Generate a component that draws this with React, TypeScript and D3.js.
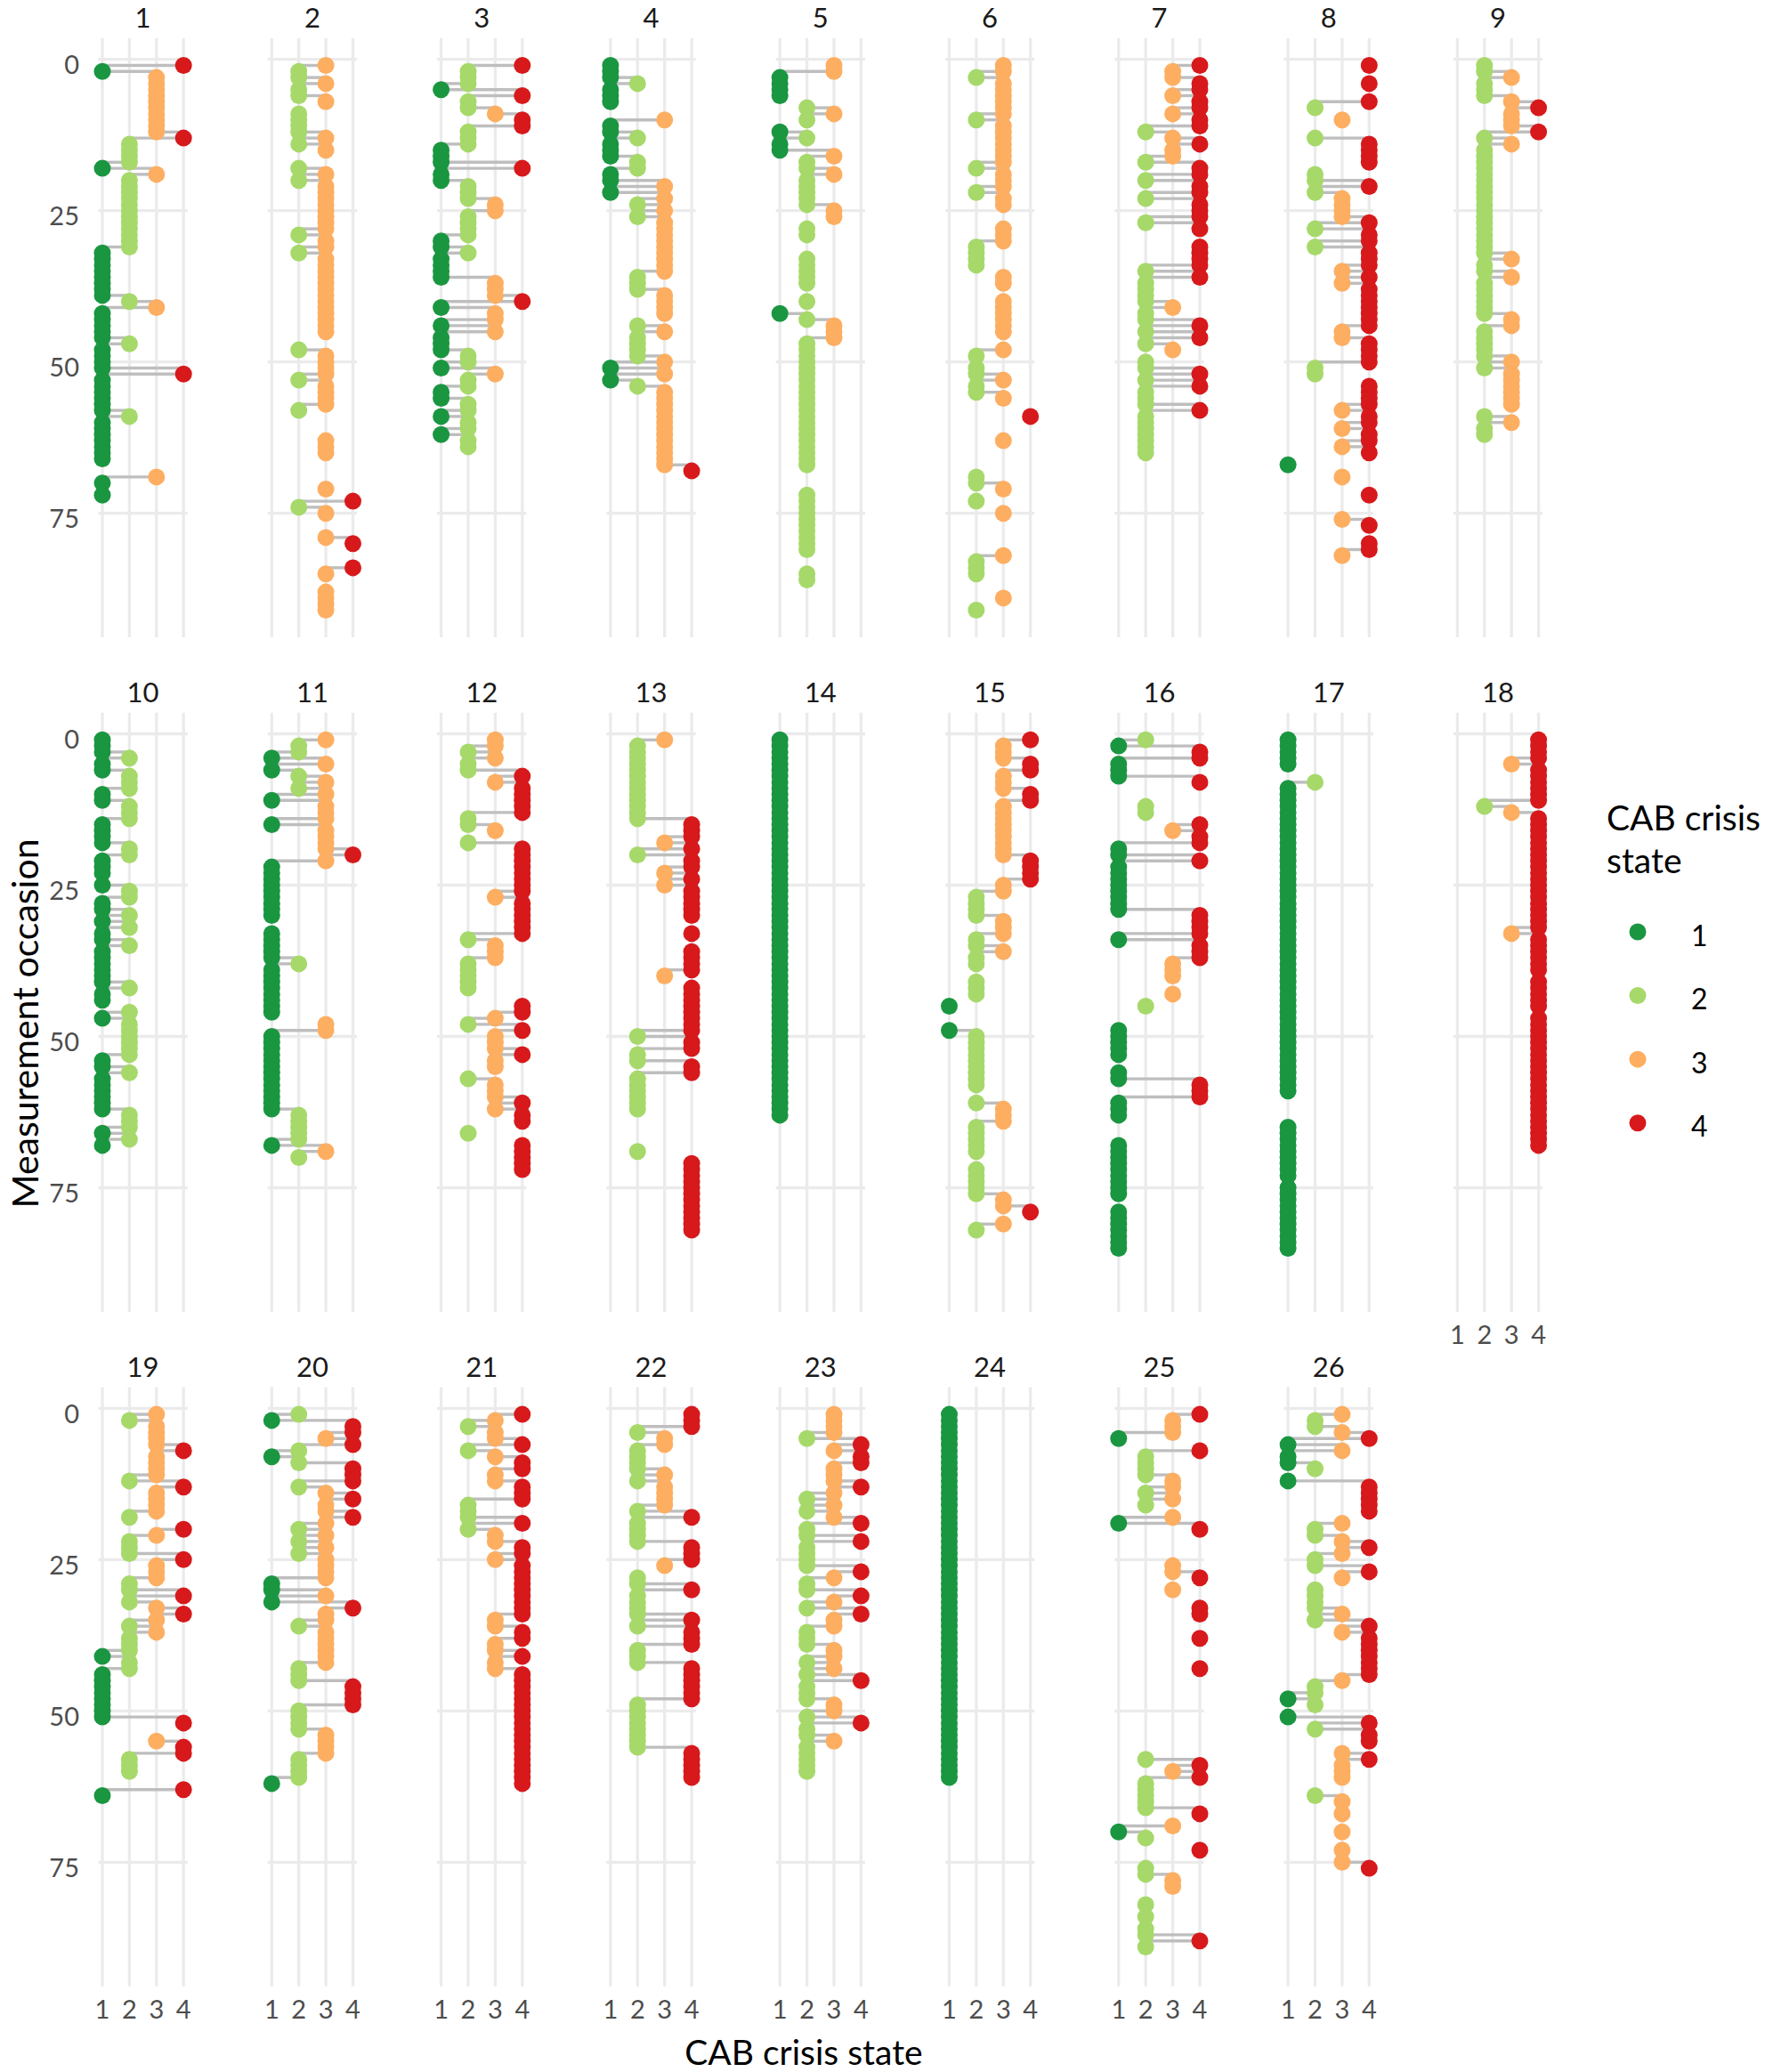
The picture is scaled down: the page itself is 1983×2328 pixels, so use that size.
import React from "react";
import * as d3 from "d3";

// ---- data -------------------------------------------------------------
// State sequences per participant, one entry per measurement occasion (starting at 1).
// Token "s" = state s at that occasion, "s*n" = state s for n consecutive occasions,
// "." = occasion without observation.
const p01 = "4 1 3*10 4 2*4 1 3 2*12 1*8 2 3 1*5 2 1*4 4 1*6 2 1*7 .*2 3 1 . 1";
const p02 = "3 2*2 3 2*2 3 . 2*4 3 2 3 .*2 2 3 2 3*8 2 3*2 2 3*13 .*2 2 3*4 2 3*4 2 .*4 3*3 .*5 3 . 4 2 3 .*3 3 4 .*3 4 3 .*2 3*4";
const p03 = "4 2*3 1 4 2*2 3 4*2 2*3 1*3 4 1*2 2*3 3*2 2*4 1*2 2 1*4 3*3 4 1 3*2 1 3 1*3 2*2 1 3 2*2 1*2 2*2 1 2*2 1 2*2";
const p04 = "1*3 2 1*3 .*2 3 1*2 2 1*3 2*2 1*2 3 1 3 2 3 2 3*9 2*3 3*4 . 2 3 2*4 3 1 3 1 2 3*13 4";
const p05 = "3*2 1*4 . 2 3 2 . 1 2 1*2 3 2*2 3 2*5 3*2 . 2*2 .*3 2*5 .*2 2 . 1 2 3*3 2*21 .*4 2*10 .*3 2*2";
const p06 = "3*2 2 3*6 2 3*7 2 3*3 2 3*2 .*3 3*3 2*4 . 3*2 .*2 3*6 .*2 3 2 . 2*2 3 2*2 3 .*2 4 .*3 3 .*5 2*2 3 . 2 . 3 .*6 3 2*3 .*3 3 . 2";
const p07 = "4 3 3 4 4 3 4 4 3 4*2 2 3 4 3*2 2 4*2 2 4*2 2 4*3 2 4 .*2 4*4 2 4 2*3 2 3 2*2 4 2 4 2 3 . 2*2 4 2 4 2*3 4 2*7";
const p08 = "4 .*2 4 .*2 4 2 . 3 .*2 2 4*4 . 2*2 4 2 3*4 4 2 4*2 2 4*3 3 4 3 4*7 3*2 4*4 2*2 . 4*4 3 4*2 3 4*2 3 4 . 1 . 3 .*2 4 .*3 3 4 .*2 4*2 3";
const p09 = "2*2 3 2*3 3 4 3*3 4 2 3 2*18 3 2*2 3 2*6 3*2 2*5 3 2 3*6 . 2 3 2*2";
const p10 = "1*3 2 1*2 2*3 1*2 2*3 1*4 2*2 1*3 . 1 2*2 1*2 2 1 2 1*2 2 1*6 2 1*2 . 2 1 2*6 1*2 2 1*6 2*3 1 2 1";
const p11 = "3 2*2 1 3 1 2 3 2 3 1 3*3 1 3*4 4 3 1*9 .*2 1*5 2 1*8 . 3*2 1*13 2*5 1 3 2";
const p12 = "3*2 2 3 2*2 4 3 4*5 2*2 3 . 2 4*8 3 4*6 2 3*3 2*5 .*2 4*2 3 2 4 3*3 4 3*2 . 2 3*3 4 3 4*2 . 2 . 4*5";
const p13 = "3 2*13 4*3 3 4 2 4*2 3 4 3 4*5 .*2 4 .*2 4*4 3 . 4*8 2 4*2 2*2 4*2 2*6 .*6 2 . 4*12";
const p14 = "1*63";
const p15 = "4 3*3 4*2 3*3 4*2 3*9 4*4 3*2 2*4 3*3 2*2 3 2*2 .*2 2*3 . 1 .*3 1 2*9 .*2 2 3*3 2*5 .*2 2*5 3*2 4 . 3 2";
const p16 = "2 1 4*2 1*3 4 .*3 2*2 . 4 3 4*2 1*2 4 1*8 4*4 1 4*3 3*3 .*2 3 . 2 .*3 1*5 .*2 1*2 4*3 1*3 .*4 1*9 .*2 1*7";
const p17 = "1*5 .*2 2 1*51 .*5 1*9 . 1*11";
const p18 = "4*4 3 4*6 2 3 4*19 3 4*6 . 4*5 . 4*22";
const p19 = "3 2 3*4 4 3*4 2 4 3*4 2 . 4 3 2*3 4 3*3 2*2 4 2 3 4 3 2 3 2*3 1 2*2 1*8 4 .*2 3 4*2 2*3 .*2 4 1";
const p20 = "2 1 4*2 3 4 2 1 2 4*3 2 3 4 3*2 4 3 2 3 2 3 2 3*4 1*2 3 1 4 3*2 2 3*6 2*3 4*4 2*4 3*4 2*4 1";
const p21 = "4 3 2 3*2 4 2 3 4*2 3*2 4*3 2*3 4 2 3*2 4*2 3 4*9 3*2 4*2 3*2 4 3*2 4*19";
const p22 = "4*3 2 3*2 2*4 3 2 3*4 2 4 2*4 4*3 3 . 2*2 4 2*4 4 2 4*3 2*3 4*6 2*8 4*5";
const p23 = "3*4 2 4 3 4*2 3*3 4 3 2 3 2 3 4 2*2 4 2*4 4 3 2*2 4 3 2 4 3*2 2*3 3*2 2 3 2 4 2*3 3*2 2 4 2*2 3 2*5";
const p24 = "1*61";
const p25 = "4 3*3 1 . 4 2*4 3*2 2 3 2 . 3 1 4 .*5 3*2 4 . 3 .*2 4*2 .*3 4 .*4 4 .*14 2 4 3 4 2*5 4 . 3 1 2 . 4 .*2 2*2 3*2 .*2 2 . 2 . 2*2 4 2";
const p26 = "3 2*2 3 4 1 3 1*2 2 . 1 4*5 . 3 2*2 3 4 3 2*2 4 3 . 2*4 3 2 4 3 4*7 3 2*2 1 2 . 1 4 2 4*2 . 3 4 3*3 .*2 2 3 . 3 .*2 3 .*2 3 . 3 4";

const participants = [p01, p02, p03, p04, p05, p06, p07, p08, p09, p10, p11, p12, p13,
  p14, p15, p16, p17, p18, p19, p20, p21, p22, p23, p24, p25, p26];
const participantLabels = participants.map((_, i) => String(i + 1));

const stateLevels = [1, 2, 3, 4];
const stateColors = ["#1a9641", "#a6d96a", "#fdae61", "#d7191c"];
const yTicks = [0, 25, 50, 75];
const yDomain: [number, number] = [-3.5, 95.5];

// ---- layout -----------------------------------------------------------
const W = 1983;
const H = 2328;
const nCols = 9;
const col0X = 115;
const colStep = 190.3;
const stateStep = 30.4;
const rowTop0 = 42.9;
const rowStep = 757.8;
const panelH = 673.2;
const FONT = "Lato, 'Open Sans', 'DejaVu Sans', sans-serif";

type Pt = { t: number; s: number };

function parseSeq(code: string): Pt[] {
  const pts: Pt[] = [];
  let t = 1;
  for (const tok of code.trim().split(/\s+/)) {
    const [v, n] = tok.split("*");
    const count = n ? +n : 1;
    for (let k = 0; k < count; k++) {
      if (v !== ".") pts.push({ t, s: +v });
      t++;
    }
  }
  return pts;
}

const color = d3.scaleOrdinal<number, string>().domain(stateLevels).range(stateColors);

function Panel({ idx }: { idx: number }) {
  const row = Math.floor(idx / nCols);
  const col = idx % nCols;
  const x1 = col0X + col * colStep;
  const top = rowTop0 + row * rowStep;
  const x = d3.scaleLinear().domain([1, 4]).range([x1, x1 + 3 * stateStep]);
  const y = d3.scaleLinear().domain(yDomain).range([top, top + panelH]);
  const pts = parseSeq(participants[idx]);
  const segs: { t: number; a: number; b: number }[] = [];
  for (let i = 0; i < pts.length - 1; i++) {
    const p = pts[i], q = pts[i + 1];
    if (q.t === p.t + 1 && q.s !== p.s) segs.push({ t: p.t, a: p.s, b: q.s });
  }
  const bottom = top + panelH;
  const showX = row === 2 || (row === 1 && col === 8);
  return (
    <g>
      {yTicks.map((v) => (
        <line key={"h" + v} x1={x(0.85)} x2={x(4.15)} y1={y(v)} y2={y(v)} stroke="#ebebeb" strokeWidth={3.3} />
      ))}
      {stateLevels.map((s) => (
        <line key={"v" + s} x1={x(s)} x2={x(s)} y1={top} y2={bottom} stroke="#ebebeb" strokeWidth={3.3} />
      ))}
      <text x={x(2.5)} y={top - 12} textAnchor="middle" fontSize={31} fill="#1a1a1a" fontFamily={FONT}>
        {participantLabels[idx]}
      </text>
      {segs.map((sg, i) => (
        <line key={"s" + i} x1={x(sg.a)} x2={x(sg.b)} y1={y(sg.t)} y2={y(sg.t)} stroke="#bebebe" strokeWidth={3.4} />
      ))}
      {pts.map((p) => (
        <circle key={"p" + p.t} cx={x(p.s)} cy={y(p.t)} r={9.5} fill={color(p.s)} />
      ))}
      {col === 0 &&
        yTicks.map((v) => (
          <text key={"yl" + v} x={89} y={y(v) + 5} textAnchor="end" dominantBaseline="central" fontSize={29} fill="#4d4d4d" fontFamily={FONT}>
            {v}
          </text>
        ))}
      {showX &&
        stateLevels.map((s) => (
          <text key={"xl" + s} x={x(s)} y={bottom + 25} textAnchor="middle" dominantBaseline="central" fontSize={29} fill="#4d4d4d" fontFamily={FONT}>
            {s}
          </text>
        ))}
    </g>
  );
}

export default function App() {
  const legendY = d3.scaleLinear().domain([1, 4]).range([1047, 1261.7]);
  return (
    <svg width={W} height={H} viewBox={`0 0 ${W} ${H}`} style={{ position: "absolute", left: 0, top: 0, background: "#fff" }}>
      <rect x={0} y={0} width={W} height={H} fill="#fff" />
      {participants.map((_, i) => (
        <Panel key={i} idx={i} />
      ))}
      <text x={27} y={1150} transform="rotate(-90 27 1150)" textAnchor="middle" dominantBaseline="central" fontSize={41} fill="#000" fontFamily={FONT}>
        Measurement occasion
      </text>
      <text x={903} y={2305} textAnchor="middle" dominantBaseline="central" fontSize={39} fill="#000" fontFamily={FONT}>
        CAB crisis state
      </text>
      <text x={1805} y={933} fontSize={39} fill="#000" fontFamily={FONT}>CAB crisis</text>
      <text x={1805} y={981} fontSize={39} fill="#000" fontFamily={FONT}>state</text>
      {stateLevels.map((s) => (
        <g key={"lg" + s}>
          <circle cx={1840} cy={legendY(s)} r={9.5} fill={color(s)} />
          <text x={1900} y={legendY(s) + 3} dominantBaseline="central" fontSize={32} fill="#000" fontFamily={FONT}>
            {s}
          </text>
        </g>
      ))}
    </svg>
  );
}
